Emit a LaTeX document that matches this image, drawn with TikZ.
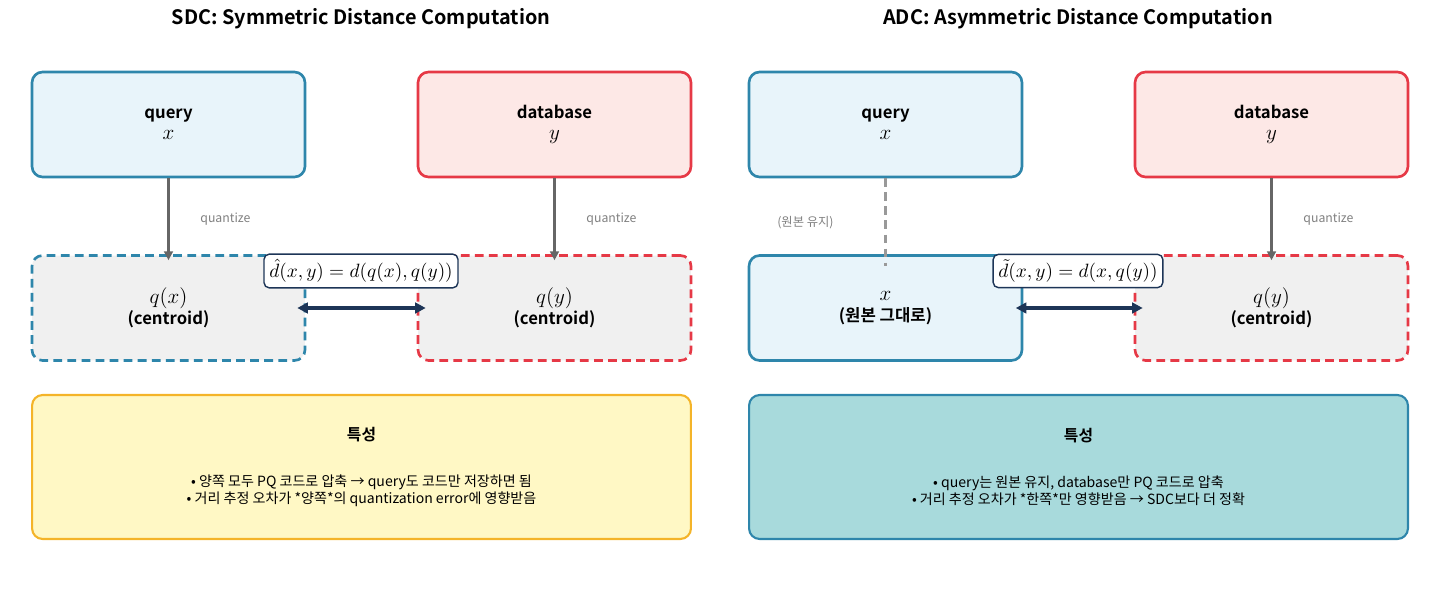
\documentclass[tikz,border=0pt]{standalone}
\usepackage{fontspec}
\setmainfont{Noto Sans CJK KR}[BoldFont={Noto Sans CJK KR Bold}]
\usetikzlibrary{positioning,arrows.meta}
\definecolor{qblue}{HTML}{2E86AB}
\definecolor{qbluefill}{HTML}{E8F4FA}
\definecolor{dbred}{HTML}{E63946}
\definecolor{dbredfill}{HTML}{FDE8E6}
\definecolor{cgray}{HTML}{F0F0F0}
\definecolor{noteyel}{HTML}{FFF8C5}
\definecolor{noteyelb}{HTML}{F4B429}
\definecolor{noteteal}{HTML}{A8DADC}
\definecolor{darrow}{HTML}{1D3557}
\tikzset{
  box/.style={rounded corners=6pt, line width=1.5pt, minimum width=5.46cm, minimum height=2.1cm, align=center, font=\fontsize{9.5}{12}\selectfont},
  querybox/.style={box, draw=qblue, fill=qbluefill},
  dbbox/.style={box, draw=dbred, fill=dbredfill},
  qxbox/.style={box, draw=qblue, fill=cgray, dashed, dash pattern=on 5pt off 3pt},
  qybox/.style={box, draw=dbred, fill=cgray, dashed, dash pattern=on 5pt off 3pt},
  notebox/.style={rounded corners=6pt, line width=1.2pt, minimum width=13.18cm, minimum height=2.88cm, align=center, font=\fontsize{8}{10}\selectfont},
  formula/.style={draw=darrow, fill=white, rounded corners=3pt, line width=0.8pt, font=\fontsize{10.5}{12}\selectfont, inner sep=3pt},
  lbl/.style={font=\fontsize{7}{8}\selectfont, text=gray},
  quant/.style={-{Triangle[length=5pt,width=5pt]}, draw=gray!80!black, line width=1.2pt},
  dist/.style={{Triangle[length=6pt,width=6pt]}-{Triangle[length=6pt,width=6pt]}, draw=darrow, line width=2pt},
  ttl/.style={font=\bfseries\fontsize{11.3}{13}\selectfont}
}
\begin{document}
\begin{tikzpicture}[x=0.02cm,y=-0.02cm]
\useasboundingbox (0,0) rectangle (1440,611);
% SDC
\node[ttl](sdctitle) at (361,19) {SDC: Symmetric Distance Computation};
\node[querybox](sq) at (168.5,124.5) {\textbf{query}\\\large$x$};
\node[dbbox](sd) at (554.5,124.5) {\textbf{database}\\\large$y$};
\node[qxbox](sqx) at (168.5,308) {\large$q(x)$\\\textbf{(centroid)}};
\node[qybox](sqy) at (554.5,308) {\large$q(y)$\\\textbf{(centroid)}};
\draw[quant](sq.south)--([yshift=-0.12cm]sqx.north)node[midway, right=0.5cm, lbl]{quantize};
\draw[quant](sd.south)--([yshift=-0.12cm]sqy.north)node[midway, right=0.5cm, lbl]{quantize};
\draw[dist]([xshift=-0.18cm]sqx.east)--([xshift=0.18cm]sqy.west);
\node[formula](sform) at (361,271) {$\hat{d}(x,y)=d(q(x),q(y))$};
\node[notebox, draw=noteyelb, fill=noteyel](snote) at (361.5,467) {\textbf{\fontsize{9}{11}\selectfont 특성}\\[16pt]• 양쪽 모두 PQ 코드로 압축 → query도 코드만 저장하면 됨\\• 거리 추정 오차가 *양쪽*의 quantization error에 영향받음};
% ADC
\node[ttl](adctitle) at (1078,19) {ADC: Asymmetric Distance Computation};
\node[querybox](aq) at (885.5,124.5) {\textbf{query}\\\large$x$};
\node[dbbox](ad) at (1271.5,124.5) {\textbf{database}\\\large$y$};
\node[querybox](ax) at (885.5,308) {\large$x$\\\textbf{(원본 그대로)}};
\node[qybox](aqy) at (1271.5,308) {\large$q(y)$\\\textbf{(centroid)}};
\draw[gray!80, line width=1.2pt, dashed, dash pattern=on 5pt off 3pt](aq.south)--([yshift=-0.24cm]ax.north)node[midway, left=0.9cm, lbl]{(원본 유지)};
\draw[quant](ad.south)--([yshift=-0.12cm]aqy.north)node[midway, right=0.5cm, lbl]{quantize};
\draw[dist]([xshift=-0.15cm]ax.east)--([xshift=0.18cm]aqy.west);
\node[formula](aform) at (1078,271) {$\tilde{d}(x,y)=d(x,q(y))$};
\node[notebox, draw=qblue, fill=noteteal](anote) at (1078.5,467) {\textbf{\fontsize{9}{11}\selectfont 특성}\\[16pt]• query는 원본 유지, database만 PQ 코드로 압축\\• 거리 추정 오차가 *한쪽*만 영향받음 → SDC보다 더 정확};
\end{tikzpicture}
\end{document}
